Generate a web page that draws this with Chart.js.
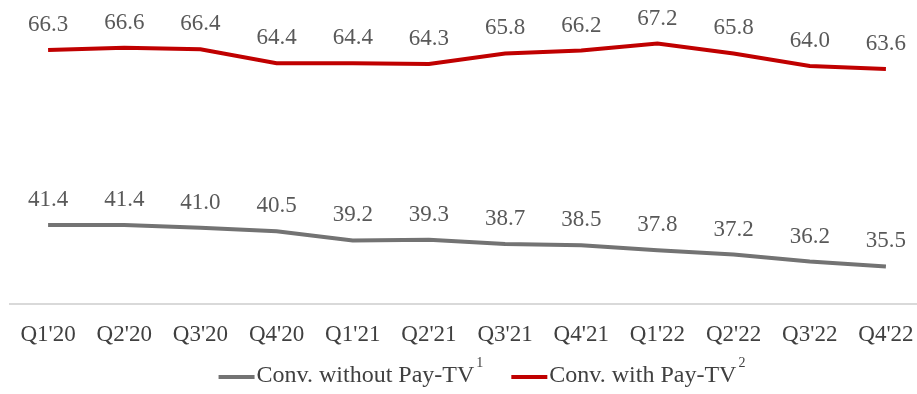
<!DOCTYPE html>
<html>
<head>
  <title>Convergent ARPU</title>
  <script src="https://cdn.jsdelivr.net/npm/chart.js"></script>
  <style>
    body {
      margin: 0;
      background: #ffffff;
      overflow: hidden;
    }
    .chart-wrap {
      position: relative;
      width: 924px;
      height: 394px;
    }
  </style>
</head>
<body>
  <div class="chart-wrap">
    <canvas id="arpuChart"></canvas>
  </div>
  <script>
    // Quarters and series values
    const quarters = ["Q1'20", "Q2'20", "Q3'20", "Q4'20", "Q1'21", "Q2'21", "Q3'21", "Q4'21", "Q1'22", "Q2'22", "Q3'22", "Q4'22"];
    const withoutPayTv = [41.4, 41.4, 41.0, 40.5, 39.2, 39.3, 38.7, 38.5, 37.8, 37.2, 36.2, 35.5];
    const withPayTv = [66.3, 66.6, 66.4, 64.4, 64.4, 64.3, 65.8, 66.2, 67.2, 65.8, 64.0, 63.6];
    const seriesNames = ['Conv. without Pay-TV', 'Conv. with Pay-TV'];
    const footnotes = ['1', '2'];

    const serif = "'Liberation Serif', 'DejaVu Serif', serif";

    // Draws the value above each point
    const pointLabels = {
      id: 'pointLabels',
      afterDatasetsDraw(chart) {
        const ctx = chart.ctx;
        ctx.save();
        ctx.font = '23px ' + serif;
        ctx.fillStyle = '#595959';
        ctx.textAlign = 'center';
        ctx.textBaseline = 'middle';
        chart.data.datasets.forEach((ds, i) => {
          chart.getDatasetMeta(i).data.forEach((pt, j) => {
            ctx.fillText(ds.data[j].toFixed(1), pt.x, pt.y - 25);
          });
        });
        ctx.restore();
      }
    };

    // Legend with line swatches and superscript footnote marks
    const footLegend = {
      id: 'footLegend',
      afterDraw(chart) {
        const ctx = chart.ctx;
        const swatch = 36, gap = 28, baseY = 382;
        ctx.save();
        const items = chart.data.datasets.map(ds => {
          ctx.font = '24px ' + serif;
          const tw = ctx.measureText(ds.label).width;
          ctx.font = '14px ' + serif;
          const sw = ctx.measureText(ds.footnote).width;
          return { ds, tw, sw, w: swatch + 2 + tw + 2 + sw };
        });
        const total = items.reduce((s, it) => s + it.w, 0) + gap * (items.length - 1);
        let x = 482 - total / 2;
        items.forEach(it => {
          ctx.strokeStyle = it.ds.borderColor;
          ctx.lineWidth = 4;
          ctx.beginPath();
          ctx.moveTo(x, baseY - 5);
          ctx.lineTo(x + swatch, baseY - 5);
          ctx.stroke();
          x += swatch + 2;
          ctx.fillStyle = '#404040';
          ctx.textBaseline = 'alphabetic';
          ctx.textAlign = 'left';
          ctx.font = '24px ' + serif;
          ctx.fillText(it.ds.label, x, baseY);
          x += it.tw + 2;
          ctx.font = '14px ' + serif;
          ctx.fillText(it.ds.footnote, x, baseY - 15);
          x += it.sw + gap;
        });
        ctx.restore();
      }
    };

    new Chart(document.getElementById('arpuChart'), {
      type: 'line',
      data: {
        labels: quarters,
        datasets: [{
          label: seriesNames[0],
          footnote: footnotes[0],
          data: withoutPayTv,
          borderColor: '#737373',
          backgroundColor: '#737373',
          borderWidth: 4,
          pointRadius: 0,
          tension: 0
        }, {
          label: seriesNames[1],
          footnote: footnotes[1],
          data: withPayTv,
          borderColor: '#c00000',
          backgroundColor: '#c00000',
          borderWidth: 4,
          pointRadius: 0,
          tension: 0
        }]
      },
      options: {
        responsive: true,
        maintainAspectRatio: false,
        animation: false,
        layout: {
          padding: { left: 10, right: 0, top: 0, bottom: 36 }
        },
        scales: {
          x: {
            offset: true,
            grid: { display: false },
            border: { display: true, color: '#d9d9d9', width: 2 },
            ticks: {
              color: '#404040',
              padding: 9,
              maxRotation: 0,
              autoSkip: false,
              font: { family: serif, size: 23 }
            }
          },
          y: {
            display: false,
            min: 30.1,
            max: 73.4
          }
        },
        plugins: {
          legend: { display: false },
          tooltip: { enabled: false }
        }
      },
      plugins: [pointLabels, footLegend]
    });
  </script>
</body>
</html>
